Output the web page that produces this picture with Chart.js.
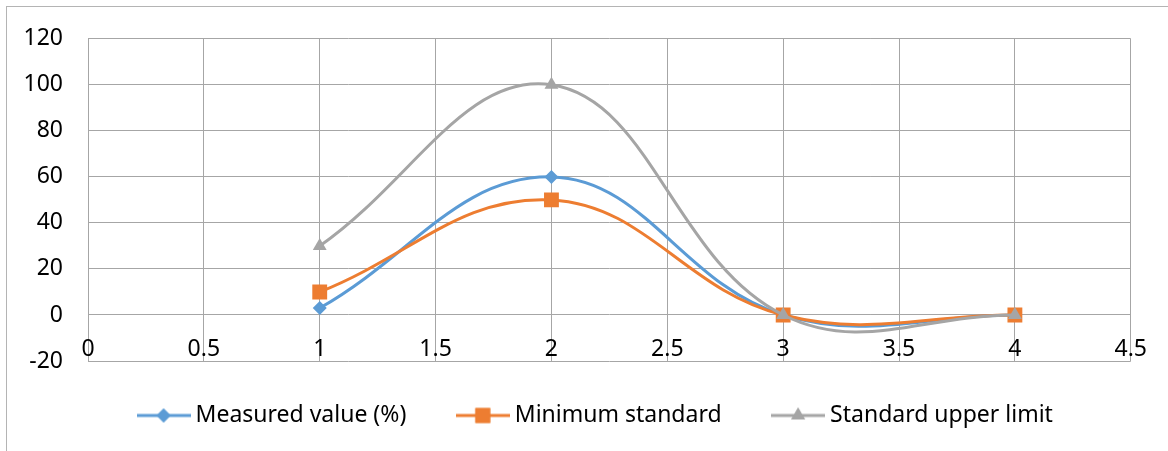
<!DOCTYPE html>
<html>
<head>
<meta charset="utf-8">
<script src="https://cdn.jsdelivr.net/npm/chart.js@4.4.1/dist/chart.umd.min.js"></script>
<style>
  html, body { margin: 0; padding: 0; background: #fff; }
  #wrap { position: relative; width: 1168px; height: 451px; overflow: hidden; }
  #frame {
    position: absolute; left: 6px; top: 6px; width: 1300px; height: 600px;
    border: 1px solid #b4b4b4; box-sizing: border-box;
  }
  canvas { position: absolute; left: 0; top: 0; }
</style>
</head>
<body>
<div id="wrap">
  <div id="frame"></div>
  <canvas id="chart" width="1168" height="451"></canvas>
</div>
<script>
// Data
const xValues = [1, 2, 3, 4];
const measuredValues = [3, 60, 0, 0];
const minimumStandard = [10, 50, 0, 0];
const upperLimit = [30, 100, 0, 0];

const seriesNames = ["Measured value (%)", "Minimum standard", "Standard upper limit"];
const seriesColors = ["#5B9BD5", "#ED7D31", "#A5A5A5"];
const seriesMarkers = ["rectRot", "rect", "triangle"];
const markerRadius = [7, 10.5, 8];

const FONT = "'Noto Sans', 'Open Sans', sans-serif";

const toPoints = (ys) => xValues.map((x, i) => ({ x, y: ys[i] }));

// legend swatch: short line with the marker in the middle, Excel style
function legendSwatch(color, marker, r) {
  const c = document.createElement("canvas");
  c.width = 54;
  c.height = 20;
  const g = c.getContext("2d");
  g.strokeStyle = color;
  g.lineWidth = 3;
  g.beginPath();
  g.moveTo(0, 10);
  g.lineTo(54, 10);
  g.stroke();
  g.fillStyle = color;
  Chart.helpers.drawPoint(g, { pointStyle: marker, radius: r, rotation: 0, borderWidth: 0 }, 27, 10);
  g.fill();
  return c;
}

const datasets = [measuredValues, minimumStandard, upperLimit].map((ys, i) => ({
  label: seriesNames[i],
  data: toPoints(ys),
  showLine: true,
  borderColor: seriesColors[i],
  backgroundColor: seriesColors[i],
  borderWidth: 3,
  tension: 0.4,
  pointStyle: seriesMarkers[i],
  pointRadius: markerRadius[i],
  pointBorderWidth: 0,
  pointHoverRadius: markerRadius[i],
  order: 3 - i,
}));

const swatches = datasets.map((d, i) => legendSwatch(seriesColors[i], seriesMarkers[i], markerRadius[i]));

// nudge the legend row to where Excel put it (a bit right of centre, a bit higher)
const legendNudge = {
  id: "legendNudge",
  afterLayout(chart) {
    const lg = chart.legend;
    if (!lg) return;
    lg.left += 32;
    lg.right += 32;
    lg.top -= 13;
    lg.bottom -= 13;
  },
};

new Chart(document.getElementById("chart"), {
  type: "scatter",
  data: { datasets },
  plugins: [legendNudge],
  options: {
    responsive: false,
    animation: false,
    devicePixelRatio: 1,
    layout: { padding: { left: 0, right: 36, top: 35, bottom: 1 } },
    plugins: {
      tooltip: { enabled: false },
      legend: {
        position: "bottom",
        labels: {
          usePointStyle: true,
          pointStyleWidth: 41,
          boxHeight: 20,
          padding: 56,
          color: "#000",
          font: { family: FONT, size: 23 },
          generateLabels: () =>
            datasets.map((d, i) => ({
              text: d.label,
              pointStyle: swatches[i],
              fillStyle: seriesColors[i],
              strokeStyle: seriesColors[i],
              lineWidth: 0,
              datasetIndex: i,
              fontColor: "#000",
            })),
        },
      },
    },
    scales: {
      x: {
        type: "linear",
        position: { y: 0 },
        min: 0,
        max: 4.5,
        grid: { color: "#a6a6a6", lineWidth: 1, drawTicks: false },
        border: { display: false },
        ticks: {
          stepSize: 0.5,
          padding: 21,
          color: "#000",
          font: { family: FONT, size: 23 },
          maxRotation: 0,
          callback: (v) => String(v),
        },
      },
      y: {
        type: "linear",
        min: -20,
        max: 120,
        grid: { color: "#a6a6a6", lineWidth: 1, drawTicks: false },
        border: { display: false },
        ticks: {
          stepSize: 20,
          padding: 25,
          color: "#000",
          font: { family: FONT, size: 23 },
          callback: (v) => String(v),
        },
        afterFit: (scale) => { scale.width = 88; },
      },
    },
  },
});
</script>
</body>
</html>
